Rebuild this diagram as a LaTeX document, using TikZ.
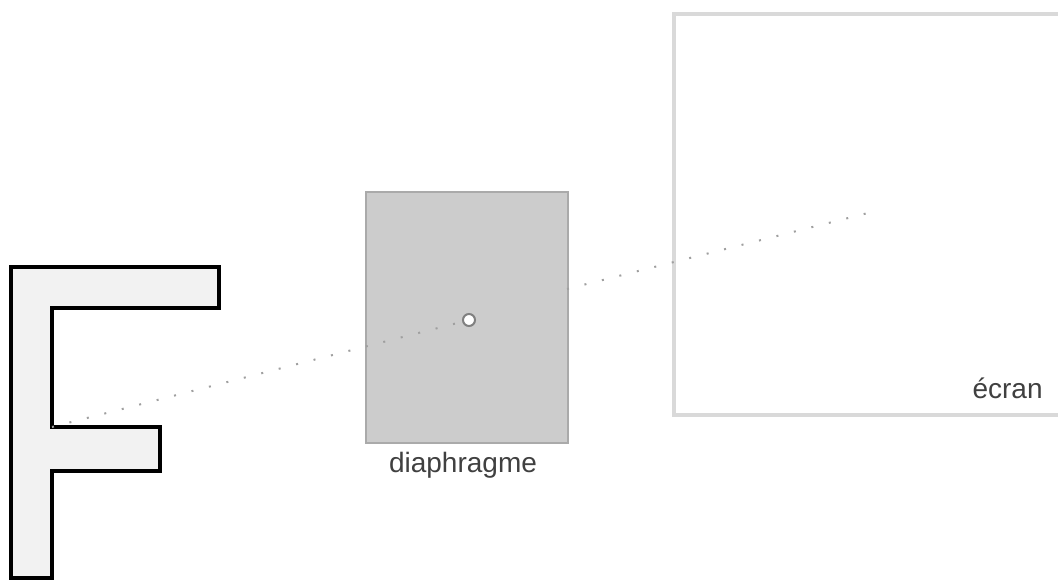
\documentclass[tikz,border=0pt]{standalone}
\usepackage{fontspec}
\setmainfont{Liberation Sans}
\usetikzlibrary{calc}

\definecolor{lettrefill}{HTML}{F2F2F2}
\definecolor{diafill}{HTML}{CCCCCC}
\definecolor{diadraw}{HTML}{AAAAAA}
\definecolor{ecrandraw}{HTML}{D9D9D9}
\definecolor{labelgray}{HTML}{404040}

\tikzset{
  lettre/.style={draw=black,line width=1.6pt,fill=lettrefill,line join=miter},
  diaph/.style={rectangle,draw=diadraw,line width=1.2pt,fill=diafill,
    minimum width=101pt,minimum height=125.5pt,inner sep=0pt},
  ecran/.style={rectangle,draw=ecrandraw,line width=1.6pt,fill=white,
    minimum width=200pt,minimum height=200.5pt,inner sep=0pt},
  trou/.style={circle,draw=gray,line width=1pt,fill=white,
    minimum size=6pt,inner sep=0pt},
  rayon/.style={gray!75,line width=1pt,dash pattern=on 1pt off 8pt},
  etiquette/.style={text=labelgray,font=\fontsize{14}{16}\selectfont,inner sep=0pt}
}

\begin{document}
\begin{tikzpicture}[x=0.5pt,y=-0.5pt]
            \useasboundingbox (0,0) rectangle (1058,579);

            \node[ecran] (screen) at (874,214.5){};
            \node[etiquette,anchor=base east] (lbl-ecran) at (1043,398){écran};

            \draw[lettre] (11,267) -- (219,267) -- (219,308) -- (52,308)
              -- (52,427) -- (160,427) -- (160,471) -- (52,471)
              -- (52,578) -- (11,578) -- cycle;

            \node[diaph] (dia) at (467,317.5){};
            \node[etiquette,anchor=base] (lbl-dia) at (463,472){diaphragme};

            \coordinate (src) at (52,427);
            \coordinate (exit) at (567,289);
            \coordinate (img) at (868,213);
            \node[trou] (pin) at (469,320){};

            \draw[rayon] (src) -- (pin);
            \draw[rayon] (exit) -- (img);
\end{tikzpicture}
\end{document}
